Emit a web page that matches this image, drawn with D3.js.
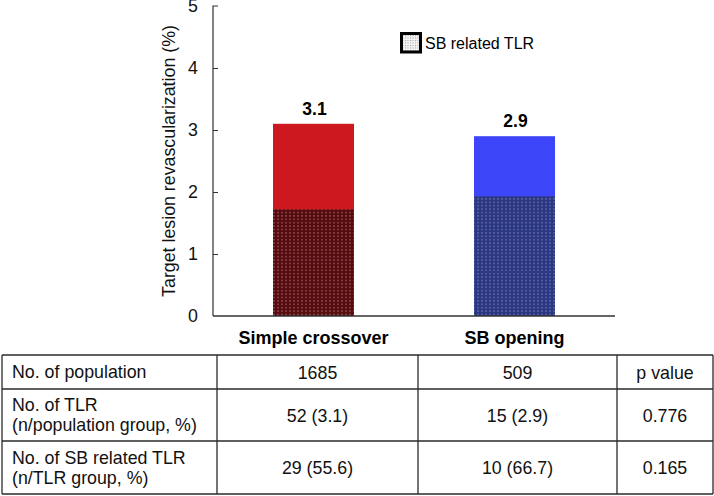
<!DOCTYPE html>
<html>
<head>
<meta charset="utf-8">
<script src="https://cdn.jsdelivr.net/npm/d3@7/dist/d3.min.js"></script>
<style>
  html, body { margin: 0; padding: 0; background: #fff; }
  svg { display: block; font-family: "Liberation Sans", Arial, sans-serif; }
</style>
</head>
<body>
<svg id="chart" width="714" height="496"></svg>
<script>
// ---- data ----
const categories = ["Simple crossover", "SB opening"];
const totalTLR = [3.1, 2.9];            // % TLR per group
const sbRelatedTLR = [1.72, 1.93];      // % SB related TLR (portion of bar)
const barLabels = ["3.1", "2.9"];
const yTicks = [0, 1, 2, 3, 4, 5];
const tableHeader = ["No. of population", "1685", "509", "p value"];
const tableRow1 = [["No. of TLR", "(n/population group, %)"], "52 (3.1)", "15 (2.9)", "0.776"];
const tableRow2 = [["No. of SB related TLR", "(n/TLR group, %)"], "29 (55.6)", "10 (66.7)", "0.165"];
const legendLabel = "SB related TLR";
const yTitle = "Target lesion revascularization (%)";

const svg = d3.select("#chart");
const topColors = ["#cc181e", "#3c45f7"];
const patIds = ["patRed", "patBlue"];
const patBase = ["#560b0f", "#2b3781"];
const patDot = ["#e6b4b4", "#aab2ea"];

const defs = svg.append("defs");
patIds.forEach((id, i) => {
  const p = defs.append("pattern").attr("id", id).attr("patternUnits", "userSpaceOnUse")
    .attr("width", 4).attr("height", 3.4);
  p.append("rect").attr("width", 4).attr("height", 3.4).attr("fill", patBase[i]);
  p.append("rect").attr("x", 1.5).attr("y", 1.2).attr("width", 1).attr("height", 1).attr("fill", patDot[i]);
});
const lp = defs.append("pattern").attr("id", "patLegend").attr("patternUnits", "userSpaceOnUse")
  .attr("width", 2.5).attr("height", 2.5);
lp.append("rect").attr("width", 2.5).attr("height", 2.5).attr("fill", "#f4f4f4");
lp.append("rect").attr("width", 1).attr("height", 1).attr("fill", "#9a9a9a");

const x = d3.scaleBand().domain(categories).range([213, 615]).paddingInner(0.597).paddingOuter(0.2985);
const y = d3.scaleLinear().domain([0, 5]).range([316, 6]);

// bars: top (total)
svg.append("g").selectAll("rect").data(categories).join("rect")
  .attr("x", d => x(d)).attr("width", x.bandwidth())
  .attr("y", (d, i) => y(totalTLR[i]))
  .attr("height", (d, i) => y(0) - y(totalTLR[i]))
  .attr("fill", (d, i) => topColors[i]);
// bars: SB related portion
svg.append("g").selectAll("rect").data(categories).join("rect")
  .attr("x", d => x(d)).attr("width", x.bandwidth())
  .attr("y", (d, i) => y(sbRelatedTLR[i]))
  .attr("height", (d, i) => y(0) - y(sbRelatedTLR[i]))
  .attr("fill", (d, i) => `url(#${patIds[i]})`);

// bar value labels
svg.append("g").selectAll("text").data(categories).join("text")
  .attr("x", d => x(d) + x.bandwidth() / 2 + 1)
  .attr("y", (d, i) => y(totalTLR[i]) - 9)
  .attr("text-anchor", "middle").attr("font-weight", "bold").attr("font-size", 17.5)
  .attr("fill", "#000").text((d, i) => barLabels[i]);

// y axis
const yAxis = d3.axisRight(y).tickValues(yTicks).tickSize(5).tickFormat(d3.format("d"));
const gy = svg.append("g").attr("transform", "translate(213,0)").call(yAxis);
gy.select(".domain").attr("stroke", "#333").attr("stroke-width", 1.2).attr("d", "M5,6H0V316");
gy.selectAll(".tick line").attr("stroke", "#333").attr("stroke-width", 1);
gy.selectAll(".tick text").attr("x", -15).attr("text-anchor", "end").attr("font-size", 17.8)
  .attr("fill", "#111").attr("font-family", "Liberation Sans, Arial, sans-serif");
gy.selectAll(".tick").filter(d => d === 0).select("line").remove();
gy.selectAll(".tick").filter(d => d === 5).select("line").remove();

// x axis
const xAxis = d3.axisBottom(x).tickSize(0).tickPadding(0);
const gx = svg.append("g").attr("transform", "translate(0,316)").call(xAxis);
gx.select(".domain").attr("stroke", "#333").attr("stroke-width", 1.5).attr("d", "M213,0H615");
gx.selectAll(".tick text").attr("y", 28).attr("dy", null).attr("font-size", 18)
  .attr("font-weight", "bold").attr("fill", "#000")
  .attr("font-family", "Liberation Sans, Arial, sans-serif");

// y title
svg.append("text").attr("transform", "translate(175,161) rotate(-90)")
  .attr("text-anchor", "middle").attr("font-size", 17.8).attr("fill", "#111").text(yTitle);

// legend
svg.append("rect").attr("x", 401.5).attr("y", 33.5).attr("width", 19).attr("height", 18.5)
  .attr("fill", "url(#patLegend)").attr("stroke", "#000").attr("stroke-width", 3);
svg.append("text").attr("x", 425).attr("y", 49).attr("font-size", 16).attr("fill", "#000").text(legendLabel);

// table
const colX = [2, 217, 418, 617, 713];
const rowY = [355, 389, 441, 494];
const tbl = svg.append("g");
rowY.forEach(yy => tbl.append("line").attr("x1", colX[0]).attr("x2", colX[4]).attr("y1", yy).attr("y2", yy)
  .attr("stroke", "#2a2a2a").attr("stroke-width", 1.3));
colX.forEach(xx => tbl.append("line").attr("x1", xx).attr("x2", xx).attr("y1", rowY[0]).attr("y2", rowY[3])
  .attr("stroke", "#2a2a2a").attr("stroke-width", 1.3));

const rows = [tableHeader, tableRow1, tableRow2];
rows.forEach((row, r) => {
  const top = rowY[r], bot = rowY[r + 1], mid = (top + bot) / 2;
  row.forEach((cell, c) => {
    if (c === 0) {
      const lines = Array.isArray(cell) ? cell : [cell];
      const t = tbl.append("text").attr("x", 12).attr("font-size", 17.8).attr("fill", "#111");
      const start = mid + 6 - (lines.length - 1) * 10;
      lines.forEach((ln, k) => t.append("tspan").attr("x", 12).attr("y", start + k * 20).text(ln));
    } else {
      tbl.append("text").attr("x", (colX[c] + colX[c + 1]) / 2).attr("y", mid + 6.5)
        .attr("text-anchor", "middle").attr("font-size", 17.8).attr("fill", "#111").text(cell);
    }
  });
});
</script>
</body>
</html>
